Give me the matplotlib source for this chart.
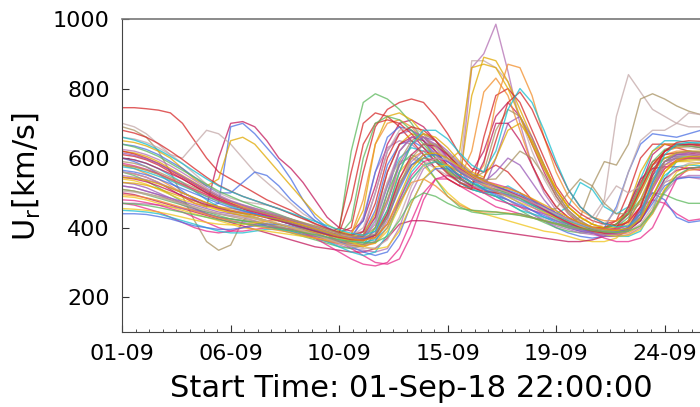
import numpy as np
import matplotlib.pyplot as plt
from matplotlib.ticker import MultipleLocator

# hours after the start time (01-Sep-18 22:00), one sample every 12 h
hours = list(range(0, 600, 12))

# ensemble members: radial solar wind speed [km/s]
members = [
    [745, 745, 742, 738, 730, 700, 650, 600, 560, 540, 520, 500, 480, 465, 450, 430, 410, 395, 385, 400, 560, 690, 740, 760, 770, 760, 720, 670, 610, 570, 560, 580, 560, 520, 480, 450, 430, 410, 400, 395, 400, 420, 500, 600, 640, 640, 630, 620, 615, 610],
    [600, 590, 575, 555, 530, 505, 480, 460, 470, 690, 700, 670, 630, 590, 540, 480, 430, 400, 380, 370, 380, 450, 580, 640, 650, 630, 600, 560, 530, 510, 500, 490, 480, 460, 440, 420, 400, 385, 375, 370, 375, 390, 420, 480, 550, 590, 600, 600, 600, 600],
    [560, 555, 545, 530, 510, 490, 470, 460, 600, 700, 705, 690, 650, 600, 570, 530, 480, 430, 400, 390, 420, 520, 640, 700, 710, 690, 650, 600, 560, 560, 620, 720, 760, 720, 640, 560, 490, 440, 410, 395, 390, 395, 420, 520, 610, 640, 640, 635, 630, 625],
    [520, 515, 505, 495, 480, 465, 450, 440, 430, 425, 420, 415, 410, 400, 390, 380, 370, 360, 355, 365, 430, 560, 630, 650, 640, 610, 570, 540, 520, 860, 900, 985, 850, 700, 580, 500, 450, 420, 400, 390, 390, 400, 440, 520, 580, 600, 610, 610, 605, 600],
    [700, 690, 670, 640, 610, 600, 640, 680, 670, 640, 600, 560, 530, 500, 470, 440, 420, 400, 390, 380, 390, 430, 530, 620, 660, 670, 650, 610, 570, 880, 880, 860, 820, 720, 620, 540, 480, 440, 420, 430, 480, 720, 840, 790, 740, 720, 700, 690, 690, 690],
    [690, 680, 660, 620, 560, 490, 420, 360, 335, 350, 420, 450, 440, 430, 410, 395, 380, 370, 360, 350, 345, 360, 430, 520, 580, 600, 590, 560, 530, 520, 510, 500, 500, 490, 470, 450, 430, 410, 430, 520, 590, 580, 640, 770, 785, 770, 750, 735, 725, 720],
    [560, 550, 535, 515, 495, 475, 455, 440, 430, 425, 420, 415, 410, 405, 395, 385, 375, 370, 390, 620, 760, 785, 770, 740, 700, 650, 600, 560, 530, 510, 500, 490, 470, 450, 430, 415, 400, 390, 385, 385, 390, 400, 430, 500, 570, 600, 605, 605, 600, 600],
    [600, 595, 585, 570, 550, 530, 505, 480, 460, 445, 440, 430, 420, 410, 400, 390, 380, 372, 365, 360, 370, 420, 520, 600, 630, 620, 590, 560, 530, 510, 500, 505, 520, 500, 470, 450, 440, 460, 530, 510, 460, 440, 460, 540, 620, 650, 650, 645, 640, 640],
    [650, 645, 635, 620, 600, 570, 540, 520, 540, 650, 660, 640, 600, 560, 520, 480, 440, 410, 390, 380, 450, 640, 720, 730, 710, 670, 620, 570, 540, 780, 890, 880, 820, 740, 660, 580, 510, 460, 430, 410, 400, 410, 460, 560, 620, 640, 640, 640, 638, 635],
    [470, 465, 455, 445, 430, 415, 400, 390, 385, 390, 400, 410, 420, 425, 420, 410, 395, 380, 360, 340, 320, 300, 295, 310, 380, 480, 540, 540, 520, 500, 480, 460, 450, 440, 430, 420, 410, 400, 390, 385, 385, 395, 420, 460, 480, 470, 440, 420, 425, 440],
    [520, 515, 505, 495, 485, 475, 465, 455, 445, 440, 435, 430, 420, 410, 400, 390, 380, 370, 360, 350, 345, 380, 500, 620, 660, 660, 640, 600, 560, 530, 510, 600, 700, 720, 660, 580, 500, 450, 420, 400, 385, 380, 390, 430, 520, 580, 600, 600, 595, 590],
    [580, 570, 555, 540, 520, 500, 485, 470, 460, 455, 450, 440, 430, 420, 410, 400, 390, 380, 370, 380, 480, 640, 700, 710, 690, 650, 600, 560, 540, 620, 790, 830, 780, 680, 580, 510, 460, 430, 410, 400, 400, 410, 440, 510, 580, 610, 620, 620, 615, 610],
    [540, 535, 525, 510, 495, 480, 470, 460, 450, 445, 440, 430, 420, 410, 400, 390, 380, 370, 360, 355, 360, 400, 480, 560, 600, 580, 540, 500, 470, 450, 440, 430, 420, 410, 400, 390, 385, 375, 365, 360, 360, 370, 400, 460, 540, 580, 590, 590, 585, 580],
    [610, 605, 595, 580, 560, 540, 520, 500, 480, 465, 455, 445, 435, 425, 410, 400, 390, 380, 400, 560, 700, 730, 720, 690, 650, 610, 570, 540, 520, 510, 660, 780, 800, 760, 680, 600, 520, 470, 440, 420, 410, 420, 450, 530, 590, 610, 615, 615, 610, 610],
    [640, 635, 625, 610, 590, 570, 545, 520, 500, 500, 530, 560, 550, 520, 480, 450, 420, 400, 385, 375, 420, 560, 660, 690, 680, 650, 610, 570, 540, 520, 510, 500, 490, 470, 450, 430, 415, 400, 390, 385, 400, 460, 560, 640, 670, 665, 660, 670, 680, 685],
    [500, 495, 485, 475, 465, 455, 445, 435, 425, 415, 405, 395, 385, 375, 365, 355, 345, 340, 335, 330, 330, 340, 370, 410, 420, 420, 415, 410, 405, 400, 395, 390, 385, 380, 375, 370, 365, 360, 360, 365, 375, 400, 460, 540, 570, 575, 575, 570, 565, 560],
    [470, 470, 468, 465, 460, 455, 450, 445, 440, 435, 430, 420, 410, 400, 390, 380, 370, 360, 350, 340, 335, 330, 340, 400, 500, 570, 590, 580, 560, 540, 520, 500, 480, 460, 440, 420, 405, 395, 385, 380, 375, 375, 380, 400, 440, 500, 540, 550, 550, 550],
    [560, 555, 545, 530, 515, 500, 485, 470, 455, 445, 435, 425, 415, 405, 395, 385, 375, 365, 355, 350, 360, 420, 530, 590, 600, 590, 570, 550, 530, 520, 510, 500, 480, 460, 440, 425, 410, 400, 395, 410, 470, 520, 500, 520, 580, 620, 630, 630, 625, 620],
    [590, 585, 575, 560, 545, 530, 515, 500, 485, 475, 465, 455, 445, 435, 425, 415, 405, 395, 385, 375, 375, 400, 480, 590, 650, 670, 650, 610, 570, 540, 560, 680, 740, 720, 650, 570, 500, 450, 420, 400, 390, 390, 400, 440, 520, 570, 590, 595, 595, 590],
    [510, 505, 495, 485, 475, 465, 455, 445, 435, 425, 420, 415, 405, 395, 385, 375, 365, 355, 345, 340, 350, 400, 500, 580, 610, 590, 540, 490, 460, 445, 440, 438, 440, 440, 430, 420, 410, 400, 395, 390, 395, 410, 440, 480, 500, 495, 480, 470, 470, 475],
    [450, 448, 445, 440, 430, 420, 410, 400, 390, 385, 385, 390, 395, 395, 390, 380, 370, 360, 345, 330, 320, 330, 380, 480, 560, 600, 610, 600, 570, 540, 510, 490, 470, 450, 440, 430, 420, 410, 400, 390, 380, 375, 375, 390, 450, 540, 590, 600, 600, 600],
    [620, 615, 605, 590, 570, 550, 530, 510, 490, 475, 460, 450, 440, 430, 420, 410, 400, 390, 380, 375, 380, 440, 560, 640, 670, 660, 630, 590, 620, 860, 870, 860, 800, 720, 640, 570, 510, 460, 430, 410, 400, 400, 420, 480, 560, 600, 615, 620, 620, 620],
    [480, 478, 472, 465, 455, 445, 430, 415, 400, 390, 390, 395, 400, 400, 395, 385, 370, 350, 330, 310, 295, 290, 300, 340, 420, 500, 540, 550, 540, 520, 500, 480, 470, 460, 450, 440, 430, 415, 400, 385, 370, 360, 360, 370, 400, 470, 540, 570, 575, 575],
    [530, 525, 515, 500, 485, 470, 455, 440, 430, 420, 415, 410, 405, 400, 395, 385, 375, 365, 360, 360, 390, 500, 620, 670, 680, 660, 620, 580, 550, 530, 530, 560, 600, 580, 530, 480, 440, 420, 400, 385, 375, 375, 390, 440, 530, 590, 610, 610, 605, 600],
    [580, 575, 565, 555, 540, 525, 510, 495, 480, 470, 460, 450, 440, 430, 420, 410, 400, 390, 380, 370, 365, 380, 450, 540, 600, 620, 610, 580, 550, 530, 580, 760, 870, 860, 780, 660, 560, 490, 450, 430, 420, 420, 440, 500, 580, 620, 630, 635, 635, 630],
    [490, 487, 480, 470, 460, 450, 440, 430, 420, 410, 400, 395, 390, 385, 380, 375, 370, 365, 360, 355, 350, 355, 390, 460, 540, 580, 590, 580, 560, 540, 520, 510, 500, 490, 480, 460, 440, 420, 405, 395, 390, 395, 410, 450, 520, 570, 590, 595, 595, 590],
    [620, 612, 600, 585, 565, 545, 525, 505, 485, 470, 455, 440, 430, 420, 410, 400, 390, 380, 385, 480, 640, 700, 710, 700, 670, 630, 590, 555, 530, 515, 505, 500, 495, 485, 470, 450, 430, 415, 405, 400, 400, 410, 440, 510, 580, 620, 635, 640, 640, 640],
    [440, 440, 438, 432, 425, 415, 405, 400, 395, 395, 400, 405, 410, 410, 405, 395, 385, 372, 360, 345, 330, 320, 330, 380, 470, 540, 570, 570, 550, 530, 510, 495, 480, 465, 450, 435, 420, 405, 395, 385, 380, 385, 400, 450, 500, 480, 430, 415, 420, 430],
    [600, 595, 585, 570, 555, 540, 520, 500, 480, 465, 455, 445, 435, 425, 415, 405, 395, 385, 375, 368, 375, 430, 560, 640, 660, 650, 620, 580, 545, 520, 590, 700, 700, 650, 580, 510, 460, 430, 410, 395, 385, 385, 400, 460, 560, 620, 640, 640, 635, 630],
    [550, 545, 538, 528, 515, 500, 485, 470, 460, 450, 445, 440, 430, 420, 410, 398, 385, 372, 362, 355, 352, 360, 420, 520, 590, 620, 620, 600, 570, 545, 525, 510, 500, 490, 475, 455, 435, 415, 400, 390, 385, 385, 395, 420, 480, 530, 545, 545, 540, 535],
    [660, 655, 645, 630, 610, 585, 555, 525, 500, 485, 475, 470, 465, 455, 440, 425, 410, 395, 380, 375, 400, 500, 620, 680, 690, 670, 630, 590, 560, 540, 525, 515, 505, 490, 470, 450, 430, 415, 405, 400, 410, 450, 560, 650, 680, 680, 700, 730, 725, 710],
    [510, 505, 498, 490, 480, 470, 460, 450, 440, 432, 425, 418, 410, 402, 394, 386, 378, 370, 362, 355, 352, 370, 440, 530, 580, 600, 595, 580, 560, 540, 530, 520, 505, 485, 465, 450, 455, 500, 540, 520, 470, 440, 440, 470, 540, 590, 600, 600, 598, 595],
    [640, 632, 620, 605, 585, 565, 545, 525, 505, 490, 475, 462, 450, 438, 425, 412, 400, 388, 378, 420, 600, 700, 720, 710, 680, 640, 600, 565, 540, 525, 515, 510, 500, 485, 465, 445, 425, 410, 400, 395, 398, 410, 445, 520, 590, 625, 635, 635, 630, 625],
    [575, 570, 560, 548, 535, 520, 505, 490, 475, 462, 450, 440, 430, 420, 410, 400, 390, 380, 370, 362, 358, 365, 400, 470, 540, 580, 590, 575, 550, 530, 515, 505, 495, 480, 465, 450, 435, 420, 408, 398, 392, 392, 400, 430, 490, 550, 575, 580, 578, 575],
    [530, 528, 522, 512, 500, 488, 476, 464, 452, 442, 434, 426, 418, 410, 402, 394, 386, 378, 370, 364, 362, 380, 450, 560, 640, 670, 660, 630, 590, 560, 545, 600, 680, 700, 650, 580, 510, 460, 430, 410, 398, 392, 395, 420, 490, 560, 590, 600, 600, 598],
    [585, 578, 568, 555, 540, 525, 510, 495, 480, 468, 456, 446, 436, 426, 416, 406, 396, 386, 376, 368, 364, 372, 410, 480, 550, 590, 600, 590, 570, 550, 535, 525, 515, 500, 482, 462, 442, 425, 412, 402, 396, 396, 405, 440, 510, 570, 595, 600, 600, 600],
    [615, 608, 598, 584, 566, 548, 528, 508, 490, 476, 464, 452, 442, 432, 422, 410, 398, 386, 375, 368, 366, 390, 470, 580, 640, 660, 650, 620, 585, 555, 535, 520, 505, 490, 470, 450, 430, 412, 398, 388, 382, 385, 400, 450, 530, 590, 610, 615, 615, 612],
    [495, 492, 486, 478, 468, 458, 448, 438, 428, 420, 412, 405, 398, 392, 386, 378, 370, 362, 354, 348, 346, 356, 400, 470, 530, 540, 520, 490, 465, 450, 445, 445, 442, 436, 428, 420, 412, 405, 398, 392, 384, 380, 385, 405, 450, 510, 550, 565, 568, 568],
    [455, 453, 450, 445, 438, 430, 422, 415, 410, 408, 410, 414, 418, 420, 416, 408, 398, 386, 372, 358, 346, 338, 345, 390, 470, 540, 575, 580, 565, 545, 525, 505, 488, 472, 458, 444, 430, 416, 402, 390, 380, 375, 378, 395, 440, 510, 560, 580, 585, 585],
    [680, 672, 660, 642, 620, 596, 570, 545, 522, 505, 490, 478, 466, 454, 440, 426, 412, 398, 386, 378, 388, 470, 600, 670, 690, 680, 650, 610, 575, 550, 540, 650, 760, 790, 740, 660, 580, 510, 460, 430, 412, 405, 415, 460, 550, 620, 645, 650, 648, 645],
    [565, 560, 552, 540, 526, 512, 498, 484, 470, 458, 448, 440, 432, 424, 415, 405, 395, 385, 376, 370, 368, 380, 430, 510, 580, 610, 610, 590, 560, 540, 528, 518, 508, 495, 478, 460, 442, 425, 410, 398, 390, 388, 395, 420, 470, 520, 540, 545, 545, 542],
    [545, 540, 532, 520, 506, 492, 478, 466, 456, 448, 442, 436, 428, 420, 410, 400, 390, 380, 372, 366, 364, 378, 440, 540, 610, 640, 635, 610, 575, 548, 530, 516, 504, 490, 472, 452, 432, 415, 400, 390, 384, 384, 392, 420, 480, 540, 565, 572, 572, 570],
    [625, 620, 610, 596, 578, 558, 536, 514, 494, 478, 466, 456, 446, 436, 424, 412, 400, 388, 378, 370, 372, 410, 520, 620, 660, 660, 635, 600, 565, 540, 520, 505, 492, 478, 460, 440, 420, 404, 392, 384, 380, 382, 392, 430, 510, 580, 605, 610, 610, 608],
    [505, 502, 496, 488, 478, 468, 458, 448, 440, 434, 430, 426, 420, 412, 402, 392, 380, 368, 356, 346, 340, 342, 365, 430, 520, 580, 600, 595, 575, 550, 530, 515, 502, 488, 472, 456, 440, 424, 410, 398, 390, 386, 390, 410, 460, 530, 570, 585, 588, 588],
    [580, 575, 566, 553, 538, 522, 506, 490, 476, 465, 456, 448, 440, 432, 424, 414, 404, 394, 384, 376, 372, 382, 430, 520, 600, 640, 640, 615, 580, 555, 538, 540, 580, 620, 600, 550, 490, 445, 415, 398, 388, 386, 392, 430, 520, 590, 615, 620, 618, 615],
    [470, 468, 464, 458, 451, 444, 437, 430, 423, 417, 412, 407, 402, 397, 392, 386, 380, 373, 366, 360, 356, 358, 375, 420, 480, 500, 490, 470, 455, 450, 448, 445, 440, 435, 428, 420, 412, 405, 398, 392, 388, 386, 390, 405, 445, 505, 550, 570, 575, 575],
    [660, 652, 640, 624, 605, 584, 562, 540, 520, 504, 490, 478, 466, 454, 442, 430, 418, 406, 394, 384, 378, 390, 450, 560, 640, 680, 680, 655, 615, 580, 560, 620, 740, 800, 760, 680, 590, 510, 460, 430, 412, 402, 405, 440, 530, 610, 640, 645, 645, 642],
    [545, 542, 536, 526, 514, 500, 486, 472, 460, 450, 442, 436, 430, 424, 416, 406, 396, 386, 376, 368, 364, 372, 410, 490, 570, 610, 615, 600, 575, 552, 535, 522, 512, 500, 484, 466, 448, 430, 414, 402, 394, 392, 398, 425, 490, 560, 595, 605, 605, 602],
]

line_colors = ['#d62728', '#4a6fe3', '#c2185b', '#b36fb3', '#c4a8a8', '#a89262', '#5cb85c',
               '#17becf', '#e0a800', '#e7298a', '#9a5ab8', '#f28e2b', '#f0c419']

tick_hours = [0, 108, 216, 324, 432, 540]
tick_labels = ['01-09', '06-09', '10-09', '15-09', '19-09', '24-09']

fig = plt.figure(figsize=(7, 4.07), dpi=100)
# axes runs past the right edge of the figure, like the cropped original
ax = fig.add_axes([122.2 / 700, 1 - 332 / 407, 678 / 700, 313 / 407])

for k, v in enumerate(members):
    ax.plot(hours, v, color=line_colors[k % len(line_colors)], lw=1.0, alpha=0.75,
            solid_joinstyle='round')

ax.set_xlim(0, 675)
ax.set_ylim(100, 1000)
ax.set_xticks(tick_hours)
ax.set_xticklabels(tick_labels)
ax.xaxis.set_minor_locator(MultipleLocator(13.5))
ax.set_yticks([200, 400, 600, 800, 1000])
ax.tick_params(which='major', direction='in', length=5, width=0.8, labelsize=16, pad=9, colors='#333333', labelcolor='black')
ax.tick_params(which='minor', direction='in', length=2.5, width=0.6, colors='#333333')
ax.tick_params(axis='y', which='minor', left=False)
for s in ['left', 'bottom']:
    ax.spines[s].set_color('#444444')
ax.spines['top'].set_color('#777777')
ax.spines['top'].set_linewidth(1.2)

fig.text(411 / 700, 1 - 397 / 407, 'Start Time: 01-Sep-18 22:00:00', fontsize=22, ha='center', va='baseline')
fig.text(27 / 700, 1 - 177 / 407, r'U$_\mathrm{r}$[km/s]', fontsize=22, rotation=90, ha='center', va='center')

fig.savefig('out.png', dpi=100)
